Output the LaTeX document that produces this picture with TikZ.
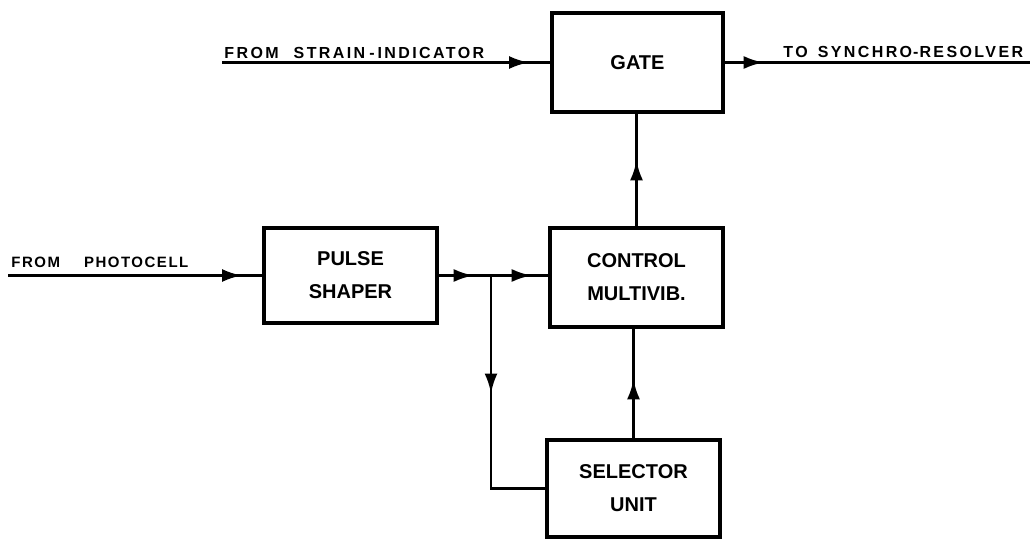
\documentclass[tikz,border=0pt]{standalone}
\usepackage{fontspec}
\setmainfont{Liberation Sans}
\newfontfamily\boxfont{Liberation Sans}
\newfontfamily\labfont{Liberation Sans}[LetterSpace=15]
\newfontfamily\labfontb{Liberation Sans}[LetterSpace=10]
\usetikzlibrary{arrows.meta,decorations.markings}
\begin{document}
\begin{tikzpicture}[x=1pt,y=-1pt,line width=2.9pt,
  blk/.style={draw,line width=3.3pt,minimum width=173pt,inner sep=0pt,align=center,
    font=\boxfont\bfseries\fontsize{20}{33}\selectfont},
  lab/.style={inner sep=0pt,anchor=base west,font=\labfont\bfseries\fontsize{16}{18}\selectfont},
  labb/.style={inner sep=0pt,anchor=base west,font=\labfontb\bfseries\fontsize{15}{18}\selectfont},
  mk/.style={postaction={decorate},decoration={markings,
    mark=at position #1 with {\arrow{Latex[length=20pt,width=13pt]}}}},
  mktwo/.style 2 args={postaction={decorate},decoration={markings,
    mark=at position #1 with {\arrow{Latex[length=20pt,width=13pt]}},
    mark=at position #2 with {\arrow{Latex[length=20pt,width=13pt]}}}}
]
\useasboundingbox (0,0) rectangle (1035,540);
% blocks
\node[blk,minimum width=171pt,minimum height=99pt] (gate) at (637.5,62.5) {GATE};
\node[blk,minimum height=99pt] (ctrl) at (636.5,277.5) {CONTROL\\MULTIVIB.};
\node[blk,minimum height=95pt] (pulse) at (350.5,275.5) {PULSE\\SHAPER};
\node[blk,minimum height=97pt] (sel) at (633.5,488.5) {SELECTOR\\UNIT};
% labels
\node[lab] (l1) at (223,59) {FROM\hspace{15pt}STRAIN\hspace{4pt}-\hspace{3pt}INDICATOR};
\node[lab] (l2) at (782,58) {TO\hspace{10pt}SYNCHRO\hspace{1pt}-\hspace{1pt}RESOLVER};
\node[labb] (l3) at (10,267) {FROM\hspace{24pt}PHOTOCELL};
% free ends
\coordinate (s1) at (222,62.5);
\coordinate (s2) at (1030,62.5);
\coordinate (p1) at (8,275.5);
\coordinate (br) at (491,275.5);
% connectors
\draw[mk=307pt] (s1) -- (gate.west);
\draw[mk=39pt] (gate.east) -- (s2);
\draw[mk=66pt] (ctrl.north) -- (ctrl.north |- gate.south);
\draw[mk=59pt] (sel.north) -- (sel.north |- ctrl.south);
\draw[mk=234pt] (p1) -- (pulse.west);
\draw[mktwo={35pt}{93pt}] (pulse.east) -- (pulse.east -| ctrl.west);
\draw[mk=118pt] (br) |- (sel.west);
\end{tikzpicture}
\end{document}
